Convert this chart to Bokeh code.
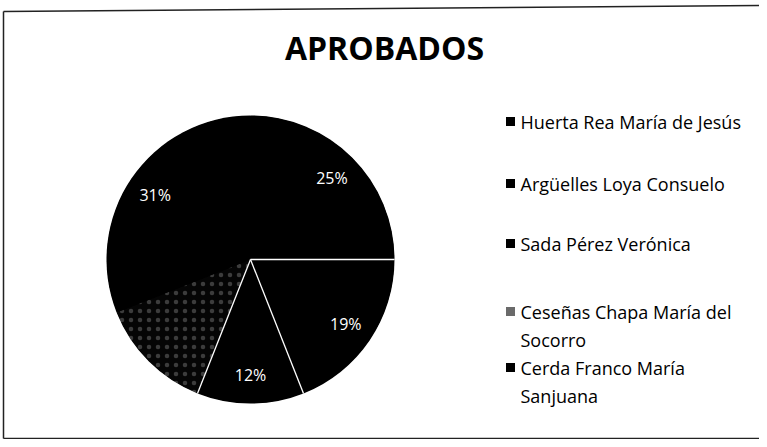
import textwrap
import numpy as np
from bokeh.plotting import figure
from bokeh.models import ColumnDataSource, Range1d
from bokeh.core.properties import value
from bokeh.embed import file_html
from bokeh.resources import INLINE

# ---------------- data ----------------
chart_title = "APROBADOS"
names = [
    "Huerta Rea María de Jesús",
    "Argüelles Loya Consuelo",
    "Sada Pérez Verónica",
    "Ceseñas Chapa María del Socorro",
    "Cerda Franco María Sanjuana",
]
percents = [25, 19, 12, 13, 31]
label_visible = [True, True, True, False, True]

# ---------------- layout / style ----------------
W, H = 759, 439
def px(x):  # picture x -> data x
    return x
def py(y):  # picture y -> data y
    return H - y

slice_colors = ["#000000", "#000000", "#000000", "#050505", "#000000"]
slice_hatch = [" ", " ", " ", ".", " "]
marker_colors = ["#000000", "#000000", "#000000", "#6a6a6a", "#000000"]
legend_page_y = [121, 183, 243, 311, 367]
separators = [1, 2, 3]  # visible white boundaries

cx, cy, R = px(250), py(259), 144

vals = np.array(percents, dtype=float)
frac = vals / vals.sum()
cum = np.concatenate([[0.0], np.cumsum(frac)])
start_a = np.pi / 2 - 2 * np.pi * cum[1:]
end_a = np.pi / 2 - 2 * np.pi * cum[:-1]
mid_a = (start_a + end_a) / 2

p = figure(width=W, height=H, output_backend="svg", toolbar_location=None,
           x_range=Range1d(0, W), y_range=Range1d(0, H),
           x_axis_type=None, y_axis_type=None, min_border=0,
           background_fill_color="white", border_fill_color="white")
p.grid.visible = False
p.outline_line_color = None

# solid disc beneath to hide antialiasing seams between wedges
p.scatter(x=[cx], y=[cy], size=2 * R - 1, marker="circle",
          fill_color="black", line_color=None)

src = ColumnDataSource(dict(start=start_a, end=end_a, color=slice_colors,
                            hatch=slice_hatch, name=names))
p.wedge(x=cx, y=cy, radius=R, radius_units="screen",
        start_angle="start", end_angle="end", direction="anticlock",
        fill_color="color", line_color=None, source=src,
        hatch_pattern="hatch", hatch_color="white", hatch_alpha=0.22,
        hatch_scale=9, hatch_weight=0.5)

# white separators
sep_angles = [np.pi / 2 - 2 * np.pi * cum[i] for i in separators]
p.ray(x=[cx] * len(sep_angles), y=[cy] * len(sep_angles), length=R,
      length_units="screen", angle=sep_angles, line_color="white", line_width=1.3)

# percent labels
lr = 0.8 * R
lx = [cx + lr * np.cos(a) for a, v in zip(mid_a, label_visible) if v]
ly = [cy + lr * np.sin(a) for a, v in zip(mid_a, label_visible) if v]
lt = [f"{int(round(f * 100))}%" for f, v in zip(frac, label_visible) if v]
p.text(x=lx, y=ly, text=lt, text_color="white", text_font=value("Open Sans"),
       text_font_size="16px", text_align="center", text_baseline="middle")

# title
p.text(x=[px(384)], y=[py(47)], text=[chart_title], text_font=value("Open Sans"),
       text_font_size="32px", text_font_style="bold", text_color="black",
       text_align="center", text_baseline="middle")

# legend
ly_pts = [py(v) for v in legend_page_y]
p.scatter(x=[px(510)] * len(names), y=ly_pts, marker="square", size=9,
          fill_color=marker_colors, line_color=None)
wrapped = [textwrap.fill(n, 25) for n in names]
p.text(x=[px(520)] * len(names), y=[v + 12 for v in ly_pts], text=wrapped,
       text_font=value("Open Sans"), text_font_size="18px", text_color="black",
       text_align="left", text_baseline="top", text_line_height=1.2)

# frame lines (scanned chart border)
p.line(x=[3, 3], y=[py(438), py(11)], line_color="#222222", line_width=1.5)
p.line(x=[3, W], y=[py(11), py(5)], line_color="#222222", line_width=1.5)
p.line(x=[3, W], y=[py(438), py(438)], line_color="#222222", line_width=1.5)

open("out.html", "w").write(file_html(p, INLINE))
